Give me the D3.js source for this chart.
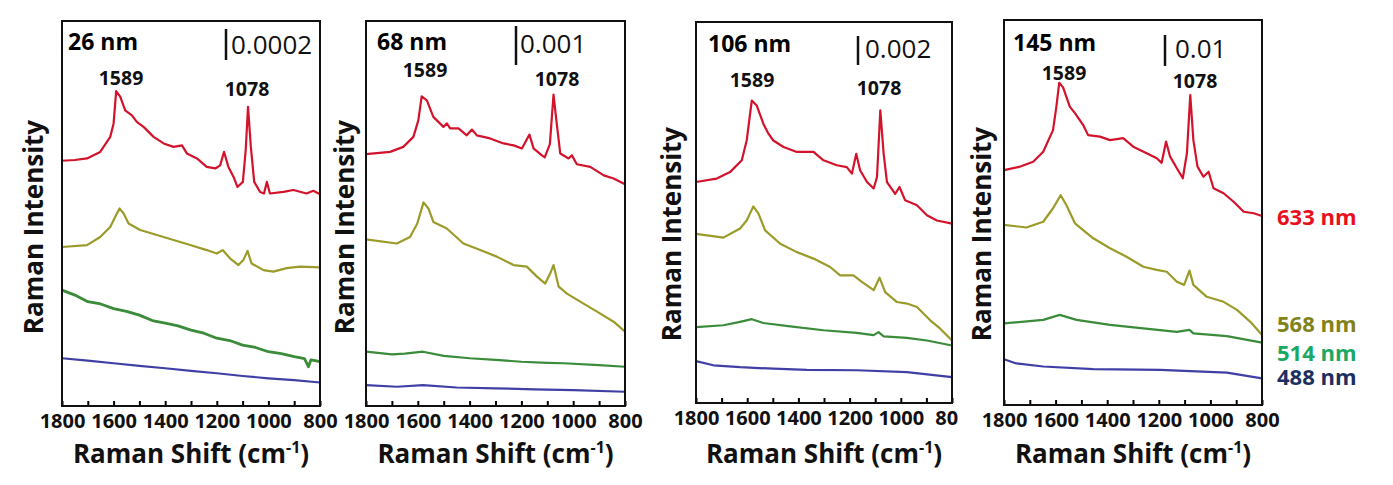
<!DOCTYPE html>
<html><head><meta charset="utf-8">
<script src="https://cdn.jsdelivr.net/npm/d3@7"></script>
<style>html,body{margin:0;padding:0;background:#fff;}svg{display:block;}</style>
</head><body>
<svg id="chart" width="1393" height="485"></svg>
<script>
// ---------- DATA ----------
const panelNames = ["26 nm", "68 nm", "106 nm", "145 nm"];
const scaleBarLabels = ["0.0002", "0.001", "0.002", "0.01"];
const peakLabels = [1589, 1078];
const laserNames = ["633 nm", "568 nm", "514 nm", "488 nm"];
const xTicks = [1800, 1700, 1600, 1500, 1400, 1300, 1200, 1100, 1000, 900, 800];

// [Raman shift (cm-1), intensity (offset, arb. units 0-100)]
const p26_633 = [[1800,63.7],[1750,63.9],[1703,64.3],[1652,66.0],[1613,69.9],[1600,73.4],[1590,81.8],[1574,80.3],[1555,76.8],[1529,75.5],[1510,73.8],[1484,72.5],[1445,69.9],[1406,68.2],[1368,67.3],[1335,67.7],[1316,65.6],[1277,64.3],[1239,62.1],[1206,61.7],[1187,62.5],[1172,66.0],[1155,62.1],[1135,59.5],[1120,56.9],[1099,58.2],[1088,66.4],[1079,77.7],[1068,67.3],[1055,58.2],[1032,55.6],[1017,55.2],[1006,58.2],[994,55.2],[942,55.6],[903,56.1],[852,55.2],[826,55.9],[800,55.0]];
const p26_568 = [[1800,41.3],[1703,41.8],[1652,43.9],[1613,46.5],[1594,49.1],[1577,51.3],[1561,50.0],[1542,47.4],[1497,45.7],[1432,44.4],[1368,43.1],[1303,41.8],[1239,40.5],[1200,39.6],[1177,40.5],[1148,38.3],[1116,36.6],[1097,37.9],[1081,40.3],[1065,37.0],[1019,35.3],[981,34.9],[929,35.8],[877,36.2],[800,36.0]];
const p26_514 = [[1800,30.1],[1750,28.8],[1700,27.1],[1650,26.5],[1600,25.3],[1550,24.6],[1500,23.6],[1450,22.2],[1400,21.5],[1350,20.8],[1300,19.7],[1250,18.9],[1200,17.6],[1150,17.0],[1100,15.8],[1050,15.2],[1000,14.1],[950,13.6],[900,12.8],[860,12.3],[845,10.2],[835,12.0],[800,11.5]];
const p26_488 = [[1800,12.4],[1700,11.8],[1600,11.1],[1500,10.4],[1400,9.8],[1300,9.1],[1200,8.5],[1100,7.8],[1000,7.2],[900,6.7],[800,6.1]];

const p68_633 = [[1800,65.4],[1707,66.0],[1656,67.3],[1617,69.9],[1598,74.2],[1585,80.4],[1565,79.4],[1540,75.1],[1501,72.5],[1488,73.4],[1475,72.1],[1443,72.1],[1411,70.3],[1391,71.8],[1372,70.3],[1321,69.5],[1269,68.2],[1230,67.7],[1198,66.9],[1169,70.5],[1153,66.9],[1121,65.1],[1110,64.6],[1090,68.0],[1076,80.9],[1065,74.2],[1050,65.6],[1018,64.3],[1005,65.1],[986,62.8],[934,62.1],[882,59.9],[844,59.1],[800,57.6]];
const p68_568 = [[1800,43.3],[1681,42.2],[1630,43.9],[1602,47.4],[1578,52.9],[1559,51.3],[1540,47.8],[1488,46.1],[1424,42.2],[1359,40.5],[1295,38.8],[1230,36.6],[1179,36.2],[1140,33.6],[1108,31.8],[1089,34.4],[1076,36.6],[1056,31.0],[1024,29.2],[973,27.1],[908,24.5],[844,21.9],[800,19.3]];
const p68_514 = [[1800,14.1],[1700,13.4],[1650,13.6],[1580,14.1],[1500,13.0],[1400,12.4],[1300,12.0],[1200,11.5],[1100,11.2],[1037,11.1],[900,10.6],[800,10.2]];
const p68_488 = [[1800,5.4],[1680,5.0],[1580,5.4],[1450,4.8],[1300,4.6],[1150,4.3],[1000,4.1],[800,3.7]];

const p106_633 = [[1800,58.0],[1719,58.9],[1667,60.6],[1621,63.7],[1602,68.9],[1582,79.4],[1563,78.1],[1537,73.3],[1517,70.7],[1498,68.9],[1458,67.2],[1406,65.9],[1341,65.9],[1302,63.7],[1250,62.4],[1211,61.9],[1191,60.2],[1174,65.4],[1159,61.1],[1132,58.0],[1106,56.3],[1093,59.3],[1080,76.8],[1067,65.4],[1054,58.0],[1022,54.9],[1005,56.7],[983,53.2],[937,51.9],[898,49.3],[859,47.9],[800,47.1]];
const p106_568 = [[1800,44.4],[1693,43.4],[1628,45.8],[1602,47.9],[1576,51.6],[1556,49.7],[1530,45.3],[1471,41.8],[1406,39.6],[1341,37.9],[1276,35.7],[1237,33.5],[1185,33.5],[1152,31.8],[1106,29.6],[1083,32.9],[1061,29.1],[1015,26.5],[976,26.1],[937,25.2],[885,21.7],[846,19.5],[800,16.4]];
const p106_514 = [[1800,19.9],[1693,20.4],[1628,21.3],[1582,22.0],[1537,21.0],[1432,20.1],[1302,19.1],[1172,18.4],[1106,17.8],[1087,18.6],[1067,17.5],[976,17.1],[898,16.4],[800,15.1]];
const p106_488 = [[1800,11.0],[1732,9.9],[1628,9.4],[1497,9.0],[1367,8.7],[1172,8.6],[976,8.1],[800,6.8]];

const p145_633 = [[1800,61.0],[1739,61.9],[1687,63.2],[1648,65.8],[1610,71.4],[1597,77.5],[1586,83.7],[1571,82.5],[1545,77.5],[1525,75.8],[1493,72.7],[1474,70.1],[1428,69.7],[1389,68.8],[1338,69.3],[1299,67.1],[1247,65.4],[1208,64.1],[1189,62.9],[1172,68.4],[1156,64.5],[1130,61.5],[1107,58.9],[1091,65.4],[1078,80.5],[1066,68.8],[1050,61.9],[1027,59.3],[1007,60.6],[988,56.3],[949,55.0],[910,52.8],[871,50.2],[832,49.8],[800,49.1]];
const p145_568 = [[1800,46.8],[1713,46.1],[1648,47.6],[1610,51.1],[1580,54.5],[1558,51.9],[1525,47.2],[1454,43.3],[1389,40.7],[1325,38.5],[1260,35.9],[1208,35.1],[1169,34.6],[1130,32.0],[1102,31.2],[1081,34.9],[1066,31.2],[1014,28.1],[949,26.8],[897,24.7],[845,21.6],[800,18.2]];
const p145_514 = [[1800,21.2],[1648,22.1],[1584,23.4],[1519,22.1],[1389,20.8],[1260,19.9],[1130,19.0],[1081,19.5],[1066,18.6],[936,17.9],[800,16.2]];
const p145_488 = [[1800,11.9],[1752,10.8],[1648,10.0],[1454,9.3],[1195,9.1],[936,8.4],[800,6.9]];

const panelSeries = [
  [p26_633, p26_568, p26_514, p26_488],
  [p68_633, p68_568, p68_514, p68_488],
  [p106_633, p106_568, p106_514, p106_488],
  [p145_633, p145_568, p145_514, p145_488]
];

// ---------- STYLE / LAYOUT ----------
const lineColors = ["#d3132c", "#9b9b2a", "#3a8b3a", "#3f3fa6"];
const legendColors = ["#e8101e", "#82821a", "#1aa862", "#1d2f5e"];
const FONT = "'Open Sans', 'DejaVu Sans', sans-serif";

const layout = [
  {x0:62,  x1:320,  y0:21, y1:406, title:[68,50],   bar:[226,29,60], barText:[231,54], peaks:[[121,85],[247,96]],  ylab:[33,227]},
  {x0:366, x1:625,  y0:21, y1:406, title:[377,50],  bar:[516,26,65], barText:[520,53], peaks:[[425,77],[557,86]],  ylab:[344,227]},
  {x0:696, x1:952,  y0:22, y1:403, title:[708,52],  bar:[858,36,65], barText:[865,58], peaks:[[752,87],[879,95]],  ylab:[671,234], clipRight:958},
  {x0:1004,x1:1262, y0:20, y1:405, title:[1013,51], bar:[1165,35,66],barText:[1175,58],peaks:[[1064,80],[1195,88]], ylab:[981,234]}
];
const legendPos = {x:1277, ys:[225, 332, 361, 385]};

const svg = d3.select("#chart");

layout.forEach((L, i) => {
  const x = d3.scaleLinear().domain([1800, 800]).range([L.x0, L.x1]);
  const y = d3.scaleLinear().domain([0, 100]).range([L.y1, L.y0]);
  const g = svg.append("g");

  // spectra
  const line = d3.line().x(d => x(d[0])).y(d => y(d[1])).curve(d3.curveLinear);
  panelSeries[i].forEach((s, k) => {
    g.append("path").datum(s).attr("d", line)
      .attr("fill", "none").attr("stroke", lineColors[k])
      .attr("stroke-width", (i === 0 && k === 2) ? 2.8 : 2.2)
      .attr("stroke-linejoin", "round");
  });

  // bottom axis with inward ticks
  let axG = g.append("g").attr("transform", `translate(0,${L.y1})`);
  if (L.clipRight) {
    const cid = "clip" + i;
    svg.append("clipPath").attr("id", cid).append("rect")
      .attr("x", 0).attr("y", 0).attr("width", L.clipRight).attr("height", 485);
    axG.remove();
    axG = g.append("g").attr("clip-path", `url(#${cid})`)
      .append("g").attr("transform", `translate(0,${L.y1})`);
  }
  axG.call(d3.axisBottom(x).tickValues(xTicks)
      .tickFormat(d => d % 200 === 0 ? d : "")
      .tickSizeInner(-5).tickSizeOuter(0).tickPadding(8));
  axG.select(".domain").remove();
  axG.selectAll(".tick line").attr("stroke", "#000").attr("stroke-width", 2);
  axG.selectAll(".tick text").attr("font-family", FONT).attr("font-size", 20)
    .attr("font-weight", 700).attr("fill", "#111");

  // frame
  g.append("rect").attr("x", L.x0).attr("y", L.y0)
    .attr("width", L.x1 - L.x0).attr("height", L.y1 - L.y0)
    .attr("fill", "none").attr("stroke", "#111").attr("stroke-width", 2);

  // panel title
  g.append("text").attr("x", L.title[0]).attr("y", L.title[1])
    .attr("font-family", FONT).attr("font-size", 23).attr("font-weight", 700)
    .attr("fill", "#000").text(panelNames[i]);

  // scale bar
  g.append("line").attr("x1", L.bar[0]).attr("x2", L.bar[0])
    .attr("y1", L.bar[1]).attr("y2", L.bar[2])
    .attr("stroke", "#111").attr("stroke-width", 2.5);
  g.append("text").attr("x", L.barText[0]).attr("y", L.barText[1])
    .attr("font-family", FONT).attr("font-size", 26).attr("font-weight", 400)
    .attr("fill", "#111").text(scaleBarLabels[i]);

  // peak labels
  peakLabels.forEach((p, j) => {
    g.append("text").attr("x", L.peaks[j][0]).attr("y", L.peaks[j][1])
      .attr("text-anchor", "middle")
      .attr("font-family", FONT).attr("font-size", 19.5).attr("font-weight", 700)
      .attr("fill", "#111").text(p);
  });

  // y title
  g.append("text")
    .attr("transform", `translate(${L.ylab[0]},${L.ylab[1]}) rotate(-90)`)
    .attr("text-anchor", "middle").attr("dominant-baseline", "central")
    .attr("font-family", FONT).attr("font-size", 26).attr("font-weight", 700)
    .attr("fill", "#111").text("Raman Intensity");

  // x title
  const xt = g.append("text").attr("x", (L.x0 + L.x1) / 2).attr("y", 463)
    .attr("text-anchor", "middle")
    .attr("font-family", FONT).attr("font-size", 26).attr("font-weight", 700)
    .attr("fill", "#111");
  xt.append("tspan").text("Raman Shift (cm");
  xt.append("tspan").attr("font-size", 16).attr("dy", -10).text("-1");
  xt.append("tspan").attr("dy", 10).text(")");
});

// legend
laserNames.forEach((n, k) => {
  svg.append("text").attr("x", legendPos.x).attr("y", legendPos.ys[k])
    .attr("font-family", FONT).attr("font-size", 22).attr("font-weight", 700)
    .attr("fill", legendColors[k]).text(n);
});
</script>
</body></html>
